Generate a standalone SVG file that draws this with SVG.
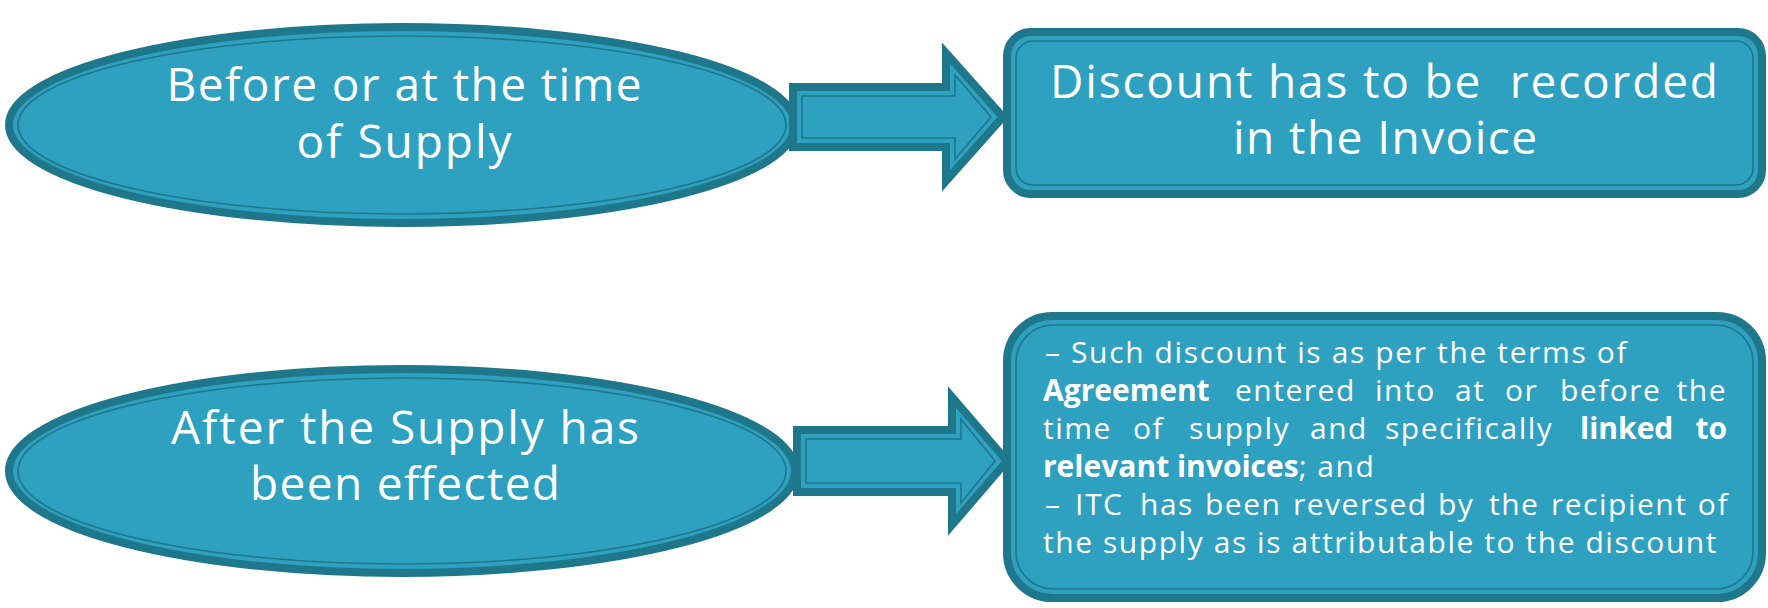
<svg xmlns="http://www.w3.org/2000/svg" width="1768" height="608" viewBox="0 0 1768 608">
<style>
.shape{fill:#2DA1BF;stroke:#1F778C;stroke-width:8;stroke-linejoin:miter}
.inner{fill:none;stroke:#1F778C;stroke-width:1.6}
.big{font-family:"Open Sans","Noto Sans",sans-serif;font-size:46px;fill:#fff;text-anchor:middle}
.small{font-family:"Open Sans","Noto Sans",sans-serif;font-size:30px;fill:#fff;letter-spacing:1.5px}
.b{font-weight:700;letter-spacing:0}
</style>
<rect width="1768" height="608" fill="#fff"/>
<g id="node-before">
<ellipse class="shape" cx="402" cy="125" rx="393" ry="98"/>
<ellipse class="inner" cx="402" cy="125" rx="384" ry="89"/>
<text class="big" x="404" y="101" textLength="475">Before or at the time</text>
<text class="big" x="404" y="158" textLength="215">of Supply</text>
</g>
<g id="node-after">
<ellipse class="shape" cx="402" cy="471" rx="393" ry="102"/>
<ellipse class="inner" cx="402" cy="471" rx="384" ry="93"/>
<text class="big" x="405" y="444" textLength="468">After the Supply has</text>
<text class="big" x="405" y="500" textLength="310">been effected</text>
</g>
<g id="connectors">
<g id="arrow-1">
<polygon class="shape" stroke-width="7" points="793,87 946,87 946,53 1003,117 946,181 946,147 793,147"/>
<polygon class="inner" points="802,96 955,96 955,75 991,117 955,159 955,138 802,138"/>
</g>
<g id="arrow-2">
<polygon class="shape" stroke-width="7" points="797,430 952,430 952,397 1007,461 952,525 952,492 797,492"/>
<polygon class="inner" points="806,439 961,439 961,419 995,461 961,503 961,483 806,483"/>
</g>
</g>
<g id="node-discount-invoice">
<rect class="shape" x="1007" y="32" width="755" height="162" rx="24"/>
<rect class="inner" x="1016" y="41" width="737" height="144" rx="17"/>
<text class="big" x="1384" y="98" textLength="668" xml:space="preserve">Discount has to be  recorded</text>
<text class="big" x="1385" y="154" textLength="304">in the Invoice</text>
</g>
<g id="node-conditions">
<rect class="shape" x="1007" y="316" width="755" height="282" rx="45"/>
<rect class="inner" x="1016" y="325" width="737" height="264" rx="37"/>
<text class="small" x="1045" y="363" textLength="583">– Such discount is as per the terms of</text>
<text class="small" y="401"><tspan class="b" x="1043">Agreement</tspan><tspan x="1235">entered</tspan><tspan x="1375">into</tspan><tspan x="1455">at</tspan><tspan x="1505">or</tspan><tspan x="1560">before</tspan><tspan x="1727" text-anchor="end">the</tspan></text>
<text class="small" y="439"><tspan x="1043">time</tspan><tspan x="1133">of</tspan><tspan x="1189">supply</tspan><tspan x="1310">and</tspan><tspan x="1385">specifically</tspan><tspan class="b" x="1580">linked</tspan><tspan class="b" x="1727" text-anchor="end">to</tspan></text>
<text class="small" y="477"><tspan class="b" x="1043">relevant invoices</tspan><tspan>; and</tspan></text>
<text class="small" y="515"><tspan x="1045">–</tspan><tspan x="1075">ITC</tspan><tspan x="1140">has</tspan><tspan x="1205">been</tspan><tspan x="1293">reversed</tspan><tspan x="1438">by</tspan><tspan x="1489">the</tspan><tspan x="1551">recipient</tspan><tspan x="1729" text-anchor="end">of</tspan></text>
<text class="small" x="1043" y="553" textLength="675">the supply as is attributable to the discount</text>
</g>
</svg>
